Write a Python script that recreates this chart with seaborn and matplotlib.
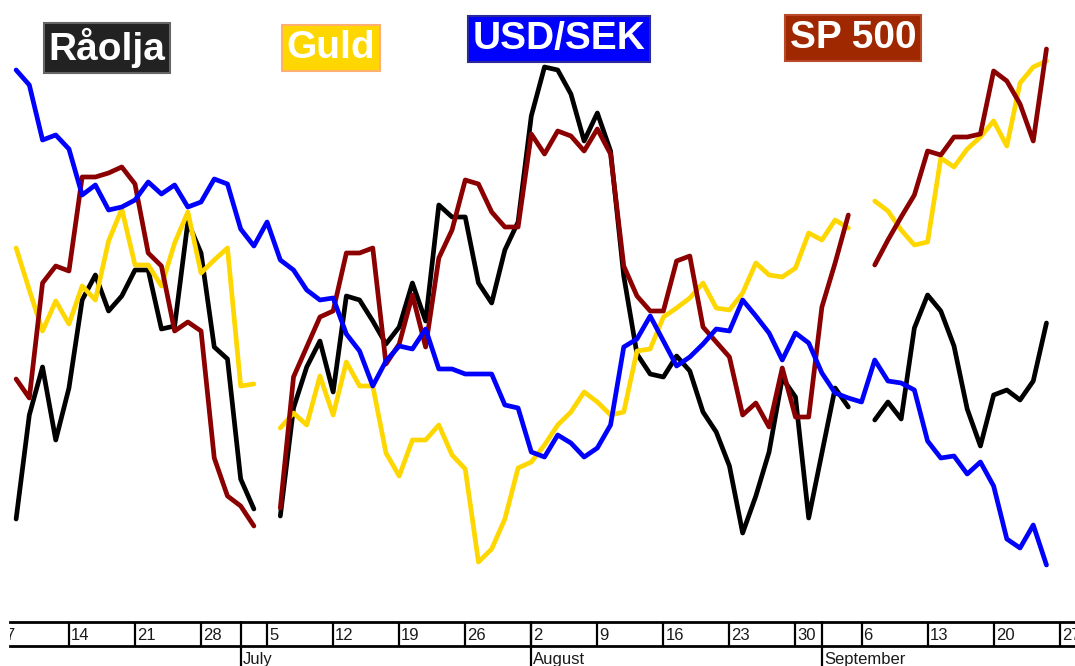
import numpy as np
import pandas as pd
import matplotlib
matplotlib.use("Agg")
import matplotlib.pyplot as plt
import matplotlib.transforms as mtransforms
import seaborn as sns

# trading days 7 June - 24 September 2010, holidays kept as gaps (NaN)
dates = pd.bdate_range("2010-06-07", "2010-09-24")
nan = np.nan

# relative levels (no y axis in the original)
raolja = [nan, 81, 185, 233, 160, 212, 300, 325, 289, 304, 330, 330, 271, 274, 378, 347, 253, 241, 121, 91,
          nan, 84, 192, 233, 259, 208, 304, 300, 279, 256, 273, 317, 279, 395, 383, 383, 317, 297, 350, 378,
          484, 533, 530, 506, 459, 487, 449, 324, 246, 226, 223, 244, 229, 188, 168, 134, 67, 104, 148, 222,
          203, 82, 147, 212, 193, nan, 180, 198, 181, 272, 305, 289, 254, 191, 154, 205, 210, 200, 219, 277]
guld = [nan, 352, 310, 269, 299, 276, 314, 300, 359, 391, 335, 335, 314, 357, 388, 327, 340, 352, 214, 216,
        nan, 172, 187, 175, 224, 185, 238, 214, 214, 147, 124, 160, 160, 175, 145, 131, 38, 51, 81, 132,
        138, 155, 175, 188, 208, 198, 185, 188, 249, 251, 283, 292, 302, 317, 292, 290, 307, 337, 325, 323,
        332, 367, 360, 380, 372, nan, 399, 389, 370, 355, 358, 442, 433, 451, 463, 479, 454, 517, 533, 539]
usdsek = [nan, 530, 515, 460, 465, 451, 405, 415, 390, 393, 400, 418, 406, 415, 393, 398, 421, 416, 371, 354,
          378, 340, 330, 310, 300, 302, 266, 249, 214, 239, 254, 251, 271, 231, 231, 226, 226, 226, 195, 192,
          148, 143, 165, 157, 143, 152, 175, 253, 261, 284, 259, 234, 243, 256, 271, 269, 300, 284, 267, 240,
          267, 257, 227, 207, 202, 198, 240, 219, 217, 210, 159, 142, 144, 126, 138, 114, 61, 52, 75, 35]
sp500 = [nan, 221, 202, 317, 334, 329, 423, 423, 427, 433, 416, 347, 334, 269, 278, 269, 142, 104, 94, 74,
         nan, 92, 223, 253, 283, 289, 347, 347, 352, 236, 256, 305, 253, 342, 370, 420, 416, 388, 373, 373,
         466, 446, 469, 464, 449, 471, 446, 334, 304, 289, 289, 339, 344, 273, 258, 243, 185, 197, 173, 232,
         183, 183, 293, 337, 385, nan, 335, 360, 383, 405, 449, 445, 463, 463, 466, 529, 519, 496, 459, 551]

series_names = ["Råolja", "Guld", "SP 500", "USD/SEK"]
series_values = [raolja, guld, sp500, usdsek]
series_colors = ["#000000", "#FFD700", "#8B0000", "#0000FF"]

week_starts = pd.date_range("2010-06-07", "2010-09-27", freq="7D")
tick_labels = ["7", "14", "21", "28", "5", "12", "19", "26", "2", "9", "16", "23", "30", "6", "13", "20", "27"]
month_starts = ["2010-07-01", "2010-08-02", "2010-09-01"]
month_names = ["July", "August", "September"]

# label boxes: text, face, edge, centre in pixels
label_boxes = [
    ("Råolja", "#222222", "#666666", 107, 48),
    ("Guld", "#FFD700", "#FFB070", 331, 48),
    ("USD/SEK", "#0000FF", "#2A2A9A", 559, 39),
    ("SP 500", "#A02800", "#B84A2A", 853, 38),
]

sns.set_theme(style="white")
plt.rcParams["font.family"] = ["Liberation Sans", "DejaVu Sans"]

W, H = 1075, 666
fig = plt.figure(figsize=(W / 100, H / 100), dpi=100)
ax = fig.add_axes([0, 0, 1, 1])

X0, X1 = -0.22, 81.16
xpos = np.arange(len(dates))

for name, vals, color in zip(series_names, series_values, series_colors):
    df = pd.DataFrame({"x": xpos, "v": vals})
    df["seg"] = df["v"].isna().cumsum()
    df = df.dropna()
    sns.lineplot(data=df, x="x", y="v", units="seg", estimator=None, color=color,
                 linewidth=3.4, legend=False, ax=ax, sort=False)

ax.set_xlim(X0, X1)
ax.set_ylim(-66, 600)
ax.axis("off")

# date band at the bottom
band_left = 10
bx = fig.add_axes([band_left / W, 20 / H, 1 - band_left / W, 24 / H])
bx.set_xlim(X0 + (X1 - X0) * band_left / W, X1)
bx.set_ylim(0, 1)
bx.set_xticks([])
bx.set_yticks([])
for s in ["left", "right"]:
    bx.spines[s].set_visible(False)
for s in ["top", "bottom"]:
    bx.spines[s].set_color("black")
    bx.spines[s].set_linewidth(2)

start = np.datetime64(dates[0].date())
tick_pos = np.busday_count(start, week_starts.values.astype("datetime64[D]"))
trans = mtransforms.blended_transform_factory(bx.transData, bx.transAxes)
txt_trans = mtransforms.offset_copy(trans, fig=fig, x=2, y=0, units="dots")
for p, lab in zip(tick_pos, tick_labels):
    bx.axvline(p, color="black", linewidth=1.6)
    bx.text(p, 0.45, lab, transform=txt_trans, ha="left", va="center",
            fontsize=12, color="#1a1a1a", clip_on=True)

month_pos = np.busday_count(start, np.array(month_starts, dtype="datetime64[D]"))
for p, lab in zip(month_pos, month_names):
    bx.plot([p, p], [-1.2, 1], transform=trans, color="black", linewidth=1.6, clip_on=False)
    bx.text(p, -0.55, lab, transform=txt_trans, ha="left", va="center",
            fontsize=12, color="#1a1a1a", clip_on=False)

for text, face, edge, cx, cy in label_boxes:
    fig.text(cx / W, 1 - cy / H, text, ha="center", va="center", fontsize=28,
             fontweight="bold", color="white",
             bbox=dict(boxstyle="square,pad=0.13", facecolor=face, edgecolor=edge, linewidth=1.5))

fig.savefig("out.png", dpi=100)
